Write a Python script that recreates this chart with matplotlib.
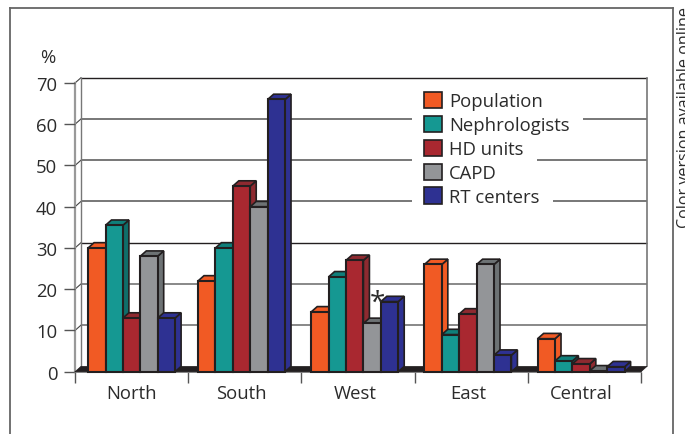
# Regional share chart, pseudo-3D bars drawn by hand on flat axes
import numpy as np
import matplotlib
matplotlib.use('Agg')
import matplotlib.pyplot as plt
from matplotlib.patches import Polygon, Rectangle, Patch
from matplotlib.lines import Line2D

plt.rcParams['font.family'] = ['Open Sans', 'DejaVu Sans']

regions = ['North', 'South', 'West', 'East', 'Central']
series = ['Population', 'Nephrologists', 'HD units', 'CAPD', 'RT centers']
population = [30, 22, 14.5, 26, 8]
nephrologists = [35.5, 30, 23, 9, 2.6]
hd_units = [13, 45, 27, 14, 1.9]
capd = [28, 40, 11.7, 26, 0.2]
rt_centers = [13, 66, 17, 4, 1.2]
y_ticks = [0, 10, 20, 30, 40, 50, 60, 70]

front = ['#F15A24', '#159892', '#A92830', '#939598', '#2E3192']
side = ['#F15A24', '#0F6E6A', '#8E2A30', '#6D7274', '#2E3192']
top = ['#F15A24', '#0F7F7A', '#8E2A30', '#6D7274', '#2E3192']
edge = '#231F20'
text_col = '#2B2B2B'
fs = 13.3

W, H = 685, 435
fig = plt.figure(figsize=(W / 100, H / 100), dpi=100)
ax = fig.add_axes([75 / W, 1 - 372.7 / H, 566 / W, 288.7 / H])
ax.set_xlim(0, 5)
ax.set_ylim(0, 70)
for s in ax.spines.values():
    s.set_visible(False)

# depth of the fake 3D, in data units
dx = 6 / 113.2
dy = 5.3 / 4.124
bar_w = 17.4 / 113.2
# the groups after the first sit a little left of the middle of their slot
centers = np.arange(5) + 0.5 - np.array([0, 0.029, 0.029, 0.029, 0.029])

# back wall
grid_cols = ['#231F20', '#777777', '#777777', '#777777', '#231F20', '#888888', '#888888']
for v, c in zip(y_ticks[1:][::-1], grid_cols):
    ax.plot([dx, 5 + dx], [v + dy, v + dy], color=c, lw=1.0 if c == edge else 1.4,
            clip_on=False, zorder=1, solid_capstyle='butt')
    ax.plot([0, dx], [v, v + dy], color='#444444', lw=0.8, clip_on=False, zorder=1)
ax.plot([dx, dx], [dy, 70 + dy], color='#777777', lw=1.0, clip_on=False, zorder=1)
ax.plot([5 + dx, 5 + dx], [dy, 70 + dy], color='#777777', lw=1.2, clip_on=False, zorder=1)
ax.plot([0, 0], [0, 70], color='#999999', lw=1.6, clip_on=False, zorder=1)
ax.plot([0, 5], [0, 0], color='#777777', lw=1.2, clip_on=False, zorder=2)

# floor
ax.add_patch(Polygon([(0, 0), (5, 0), (5 + dx, dy), (dx, dy)], closed=True,
                     facecolor=edge, edgecolor=edge, lw=0.5, clip_on=False, zorder=2))

# white behind the legend, cuts the grid lines
for v, right_px in [(60, 583), (50, 536.7), (40, 553)]:
    x0 = (411.7 - 75) / 113.2
    x1 = (right_px - 75) / 113.2
    ax.add_patch(Rectangle((x0, v + dy - 0.6), x1 - x0, 1.2, facecolor='white',
                           edgecolor='none', zorder=1.5))

data = [population, nephrologists, hd_units, capd, rt_centers]
z = 3
for i in range(len(regions)):
    for j in range(len(series)):
        v = data[j][i]
        x0 = centers[i] + (j - 2.5) * bar_w
        x1 = x0 + bar_w
        ax.add_patch(Polygon([(x1, 0), (x1 + dx, dy), (x1 + dx, v + dy), (x1, v)], closed=True,
                             facecolor=side[j], edgecolor=edge, lw=1.2, clip_on=False, zorder=z))
        ax.add_patch(Polygon([(x0, v), (x1, v), (x1 + dx, v + dy), (x0 + dx, v + dy)], closed=True,
                             facecolor=top[j], edgecolor=edge, lw=1.2, clip_on=False, zorder=z))
        ax.add_patch(Rectangle((x0, 0), bar_w, v, facecolor=front[j], edgecolor=edge,
                               lw=1.5, clip_on=False, zorder=z + 0.5))
        z += 1

# axis ticks and labels
ax.set_yticks(y_ticks)
ax.set_xticks(range(6))
ax.set_xticklabels([])
ax.set_xticks(centers, minor=True)
ax.set_xticklabels(regions, minor=True)
ax.tick_params(axis='x', which='major', length=7.7, width=1, color='#555555')
ax.tick_params(axis='x', which='minor', length=0, pad=9, labelsize=fs, labelcolor=text_col)
ax.tick_params(axis='y', length=8.2, width=1, color='#555555', pad=4.5, labelsize=fs,
               labelcolor=text_col)

fig.text(48 / W, 1 - 58 / H, '%', ha='center', va='center', fontsize=fs, color=text_col)
ax.text(2.67, 16.6, '*', ha='center', va='center', fontsize=20, color=text_col, zorder=100)

handles = [Patch(facecolor=c, edgecolor=edge, lw=1.2) for c in front]
leg = ax.legend(handles, series, loc='upper left', bbox_to_anchor=(424 / W, 1 - 93 / H),
                bbox_transform=fig.transFigure, frameon=False, fontsize=fs, borderpad=0,
                borderaxespad=0, handlelength=0.97, handleheight=0.97, handletextpad=0.4,
                labelspacing=0.293, labelcolor=text_col)
leg.set_zorder(200)

# outer frame, open at the bottom
for xs, ys in [([10, 10], [435, 9]), ([10, 673], [9, 9]), ([673, 673], [9, 435])]:
    fig.add_artist(Line2D([p / W for p in xs], [1 - p / H for p in ys], color='#666666', lw=1.3))

fig.text(685 / W, 1 - 228 / H, 'Color version available online', rotation=90, ha='center',
         va='bottom', fontsize=11.6, color=text_col)

fig.savefig('out.png', dpi=100)
